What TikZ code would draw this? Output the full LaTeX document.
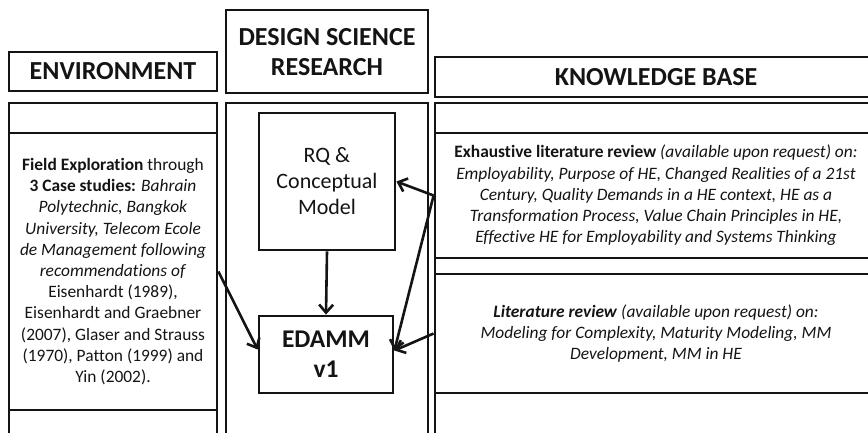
\documentclass[tikz,border=0pt]{standalone}
\usepackage{fontspec}
\setmainfont{Carlito}[Ligatures=NoCommon]
\usetikzlibrary{arrows.meta}
\definecolor{ink}{HTML}{141414}
\tikzset{
  box/.style={draw=ink, line width=2.8pt, rectangle, inner sep=0pt},
  head/.style={font=\fontsize{26}{30}\selectfont\bfseries, text=ink, align=center},
  body/.style={font=\fontsize{17.4}{21.2}\selectfont, text=ink, align=center},
  flow/.style={draw=ink, line width=2.6pt, -{Straight Barb[length=8pt,width=14pt,line width=2.6pt]}},
}
\begin{document}
\begin{tikzpicture}[x=1pt,y=-1pt]
\useasboundingbox (0,0) rectangle (868,432);
\clip (0,0) rectangle (868,432);

% column headings
\node[box, minimum width=208pt, minimum height=39pt] (envhead) at (113,71.5) {};
\node[head] at (envhead) {ENVIRONMENT};
\node[box, minimum width=202pt, minimum height=83pt] (dsrhead) at (327,51.5) {};
\node[head] at ([yshift=-1pt]dsrhead.center) {DESIGN SCIENCE\\RESEARCH};
\node[box, minimum width=442pt, minimum height=40pt] (kbhead) at (656,77) {};
\node[head] at (kbhead) {KNOWLEDGE BASE};

% column bodies (running off the lower edge)
\node[box, minimum width=208pt, minimum height=337pt] (envcol) at (113,271.5) {};
\node[box, minimum width=202pt, minimum height=337pt] (dsrcol) at (327,271.5) {};
\node[box, minimum width=442pt, minimum height=337pt] (kbcol) at (656,271.5) {};

% environment
\node[box, minimum width=208pt, minimum height=277pt] (envbody) at (113,271.5) {};
\node[body] at (envbody) {\textbf{Field Exploration} through\\
\textbf{3 Case studies:} \textit{Bahrain}\\
\textit{Polytechnic, Bangkok}\\
\textit{University, Telecom Ecole}\\
\textit{de Management following}\\
\textit{recommendations of}\\
Eisenhardt (1989),\\
Eisenhardt and Graebner\\
(2007), Glaser and Strauss\\
(1970), Patton (1999) and\\
Yin (2002).};

% knowledge base
\node[box, minimum width=442pt, minimum height=125pt] (kbrev) at (656,195.5) {};
\node[body] at (kbrev) {\textbf{Exhaustive literature review} \textit{(available upon request) on:}\\
\textit{Employability, Purpose of HE, Changed Realities of a 21st}\\
\textit{Century, Quality Demands in a HE context, HE as a}\\
\textit{Transformation Process, Value Chain Principles in HE,}\\
\textit{Effective HE for Employability and Systems Thinking}};
\node[box, minimum width=442pt, minimum height=119pt] (kblit) at (656,333.5) {};
\node[body] at (kblit) {\textbf{\textit{Literature review}} \textit{(available upon request) on:}\\
\textit{Modeling for Complexity, Maturity Modeling, MM}\\
\textit{Development, MM in HE}};

% design science research
\node[box, minimum width=136pt, minimum height=137pt, align=center,
      font=\fontsize{22}{26}\selectfont, text=ink] (rq) at (327,181.5) {RQ \&\\Conceptual\\Model};
\node[box, minimum width=134pt, minimum height=77pt, align=center,
      font=\fontsize{25.5}{30}\selectfont\bfseries, text=ink] (edamm) at (326,354.5) {EDAMM\\v1};

% connectors
\draw[flow] (rq.south) -- (edamm.north);
\draw[flow] (kbrev.west) -- (rq.east);
\draw[flow] (kbrev.west) -- ([yshift=4pt]edamm.east);
\draw[flow] (kblit.west) -- ([yshift=4pt]edamm.east);
\draw[flow] (envbody.east) -- ([yshift=5pt]edamm.west);
\end{tikzpicture}
\end{document}
